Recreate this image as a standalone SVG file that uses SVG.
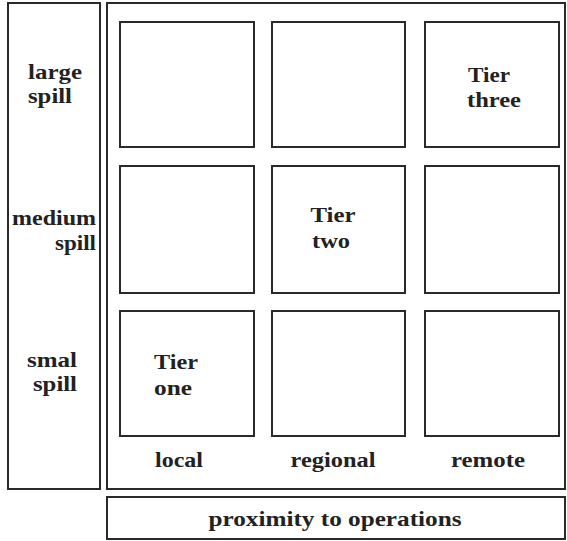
<svg xmlns="http://www.w3.org/2000/svg" width="567" height="541" viewBox="0 0 567 541">
<style>
.b{fill:#fff;stroke:#2a2a2a;stroke-width:2}
text{font-family:'Liberation Serif','DejaVu Serif',serif;font-weight:bold;font-size:22px;fill:#222;text-anchor:middle}
.r{text-anchor:end}
</style>
<rect width="567" height="541" fill="#fff"/>
<g id="axis-y">
<rect class="b" x="8" y="3" width="92" height="486"/>
<text x="55" y="79" textLength="54" lengthAdjust="spacingAndGlyphs">large</text>
<text x="50" y="103" textLength="44" lengthAdjust="spacingAndGlyphs">spill</text>
<text class="r" x="96" y="225" textLength="84" lengthAdjust="spacingAndGlyphs">medium</text>
<text class="r" x="96" y="250" textLength="41" lengthAdjust="spacingAndGlyphs">spill</text>
<text x="52" y="367" textLength="50" lengthAdjust="spacingAndGlyphs">smal</text>
<text x="55" y="391" textLength="44" lengthAdjust="spacingAndGlyphs">spill</text>
</g>
<g id="grid">
<rect class="b" x="107" y="3" width="458" height="486"/>
</g>
<g id="c11"><rect class="b" x="120" y="22" width="134" height="125"/></g>
<g id="c12"><rect class="b" x="272" y="22" width="133" height="125"/></g>
<g id="c13"><rect class="b" x="425" y="22" width="134" height="125"/>
<text x="489" y="82" textLength="42" lengthAdjust="spacingAndGlyphs">Tier</text><text x="494" y="107" textLength="54" lengthAdjust="spacingAndGlyphs">three</text></g>
<g id="c21"><rect class="b" x="120" y="166" width="134" height="127"/></g>
<g id="c22"><rect class="b" x="272" y="166" width="133" height="127"/>
<text x="333" y="222" textLength="45" lengthAdjust="spacingAndGlyphs">Tier</text><text x="331" y="248" textLength="38" lengthAdjust="spacingAndGlyphs">two</text></g>
<g id="c23"><rect class="b" x="425" y="166" width="134" height="127"/></g>
<g id="c31"><rect class="b" x="120" y="311" width="134" height="125"/>
<text x="176" y="369" textLength="44" lengthAdjust="spacingAndGlyphs">Tier</text><text x="173" y="395" textLength="38" lengthAdjust="spacingAndGlyphs">one</text></g>
<g id="c32"><rect class="b" x="272" y="311" width="133" height="125"/></g>
<g id="c33"><rect class="b" x="425" y="311" width="134" height="125"/></g>
<g id="axis-x">
<text x="179" y="467" textLength="48" lengthAdjust="spacingAndGlyphs">local</text>
<text x="333" y="467" textLength="85" lengthAdjust="spacingAndGlyphs">regional</text>
<text x="488" y="467" textLength="74" lengthAdjust="spacingAndGlyphs">remote</text>
<rect class="b" x="107" y="497" width="458" height="42"/>
<text x="335" y="526" textLength="253" lengthAdjust="spacingAndGlyphs">proximity to operations</text>
</g>
</svg>
